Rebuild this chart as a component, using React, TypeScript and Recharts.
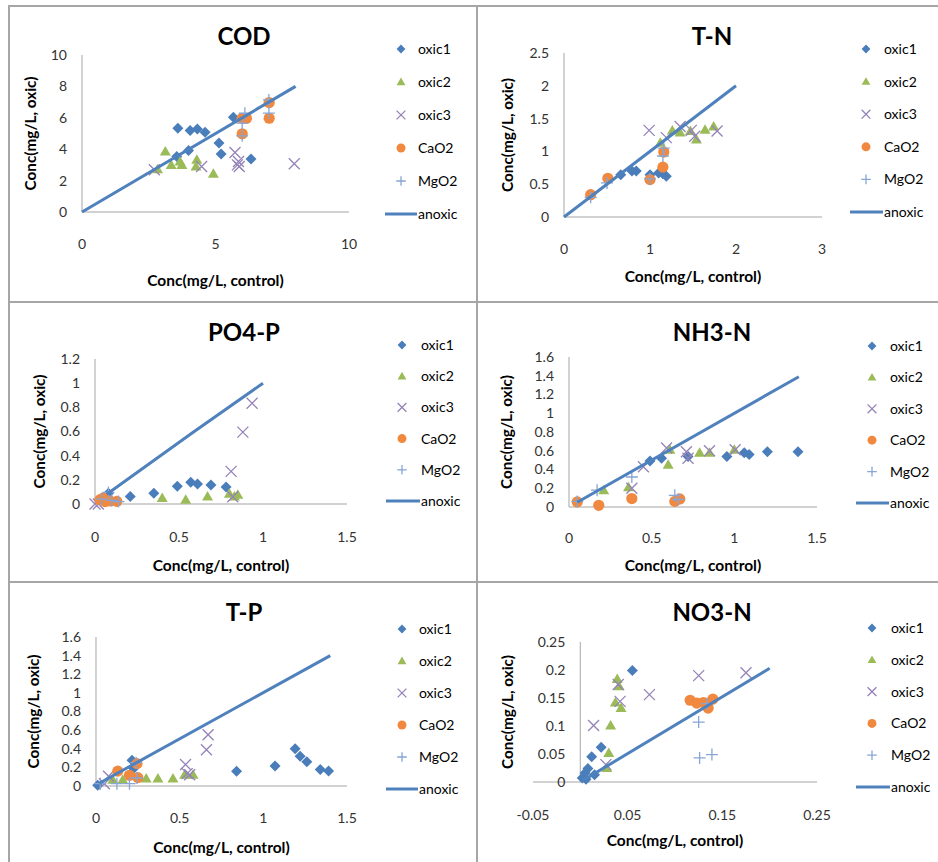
import React from 'react';
import { ScatterChart, Scatter, XAxis, YAxis, ReferenceLine } from 'recharts';

type Pt = [number, number];

const FONT = 'Lato, "Open Sans", sans-serif';

// COD
const codOxic1: Pt[] = [[3.55, 3.54], [3.59, 5.34], [3.99, 3.92], [4.05, 5.19], [4.32, 5.28], [4.61, 5.08], [5.13, 4.39], [5.21, 3.69], [5.67, 6.04], [6.33, 3.37]];
const codOxic2: Pt[] = [[2.83, 2.73], [3.12, 3.86], [3.34, 3.0], [3.67, 3.22], [3.74, 3.0], [4.27, 2.9], [4.3, 3.33], [4.92, 2.44]];
const codOxic3: Pt[] = [[2.71, 2.69], [4.48, 2.9], [5.73, 3.79], [5.86, 3.22], [5.82, 3.0], [5.89, 2.9], [7.95, 3.07]];
const codCaO2: Pt[] = [[6.0, 4.98], [6.0, 5.97], [6.16, 5.97], [7.01, 6.97], [7.01, 5.97]];
const codMgO2: Pt[] = [[6.0, 4.85], [6.0, 5.66], [6.1, 6.29], [7.0, 6.3], [7.0, 7.14]];
const codAnoxic: Pt[] = [[0, 0], [8, 8]];

// T-N
const tnOxic1: Pt[] = [[0.66, 0.645], [0.79, 0.7], [0.84, 0.7], [1.0, 0.645], [1.1, 0.67], [1.15, 0.66], [1.19, 0.62]];
const tnOxic2: Pt[] = [[1.12, 1.13], [1.26, 1.32], [1.35, 1.29], [1.47, 1.31], [1.54, 1.18], [1.64, 1.33], [1.74, 1.38]];
const tnOxic3: Pt[] = [[0.99, 1.32], [1.19, 1.21], [1.35, 1.38], [1.48, 1.32], [1.52, 1.23], [1.78, 1.31]];
const tnCaO2: Pt[] = [[0.31, 0.34], [0.51, 0.59], [1.0, 0.57], [1.15, 0.76], [1.16, 0.99]];
const tnMgO2: Pt[] = [[0.31, 0.3], [0.5, 0.52], [1.0, 0.58], [1.15, 0.93], [1.16, 1.05]];
const tnAnoxic: Pt[] = [[0, 0], [2, 2]];

// PO4-P
const po4Oxic1: Pt[] = [[0.08, 0.09], [0.21, 0.063], [0.35, 0.09], [0.49, 0.146], [0.57, 0.18], [0.61, 0.165], [0.69, 0.157], [0.78, 0.14]];
const po4Oxic2: Pt[] = [[0.4, 0.05], [0.54, 0.036], [0.67, 0.063], [0.8, 0.085], [0.83, 0.063], [0.85, 0.077]];
const po4Oxic3: Pt[] = [[0.0, 0.0], [0.02, 0.0], [0.81, 0.27], [0.82, 0.06], [0.88, 0.595], [0.935, 0.834]];
const po4CaO2: Pt[] = [[0.03, 0.036], [0.05, 0.05], [0.06, 0.02], [0.09, 0.025], [0.13, 0.022]];
const po4MgO2: Pt[] = [[0.04, 0.04], [0.08, 0.096], [0.1, 0.03], [0.14, 0.02]];
const po4Anoxic: Pt[] = [[0.07, 0.08], [0.58, 0.59], [1.0, 1.0]];

// NH3-N
const nh3Oxic1: Pt[] = [[0.49, 0.49], [0.56, 0.52], [0.72, 0.54], [0.955, 0.54], [1.06, 0.58], [1.09, 0.56], [1.2, 0.59], [1.385, 0.59]];
const nh3Oxic2: Pt[] = [[0.21, 0.18], [0.36, 0.21], [0.6, 0.45], [0.61, 0.61], [0.79, 0.58], [0.85, 0.58], [1.0, 0.61]];
const nh3Oxic3: Pt[] = [[0.38, 0.2], [0.45, 0.43], [0.59, 0.63], [0.71, 0.59], [0.72, 0.52], [0.85, 0.6], [1.005, 0.61]];
const nh3CaO2: Pt[] = [[0.05, 0.054], [0.18, 0.018], [0.38, 0.09], [0.64, 0.06], [0.67, 0.086]];
const nh3MgO2: Pt[] = [[0.05, 0.06], [0.17, 0.18], [0.38, 0.32], [0.64, 0.125], [0.66, 0.08]];
const nh3Anoxic: Pt[] = [[0.05, 0.05], [1.39, 1.39]];

// T-P
const tpOxic1: Pt[] = [[0.01, 0.007], [0.215, 0.277], [0.225, 0.187], [0.84, 0.158], [1.07, 0.216], [1.19, 0.4], [1.22, 0.32], [1.26, 0.26], [1.34, 0.176], [1.39, 0.162]];
const tpOxic2: Pt[] = [[0.1, 0.068], [0.16, 0.068], [0.3, 0.08], [0.37, 0.08], [0.46, 0.08], [0.53, 0.12], [0.58, 0.12]];
const tpOxic3: Pt[] = [[0.05, 0.025], [0.075, 0.104], [0.535, 0.23], [0.545, 0.133], [0.56, 0.12], [0.66, 0.39], [0.67, 0.55]];
const tpCaO2: Pt[] = [[0.13, 0.16], [0.2, 0.115], [0.245, 0.24], [0.25, 0.09]];
const tpMgO2: Pt[] = [[0.026, 0.025], [0.125, 0.025], [0.2, 0.025], [0.24, 0.25], [0.245, 0.086]];
const tpAnoxic: Pt[] = [[0.02, 0.03], [1.4, 1.4]];

// NO3-N
const no3Oxic1: Pt[] = [[0.002, 0.007], [0.005, 0.016], [0.006, 0.005], [0.008, 0.024], [0.012, 0.045], [0.015, 0.013], [0.022, 0.062], [0.055, 0.199]];
const no3Oxic2: Pt[] = [[0.028, 0.025], [0.03, 0.052], [0.032, 0.101], [0.037, 0.142], [0.039, 0.184], [0.041, 0.171], [0.043, 0.132]];
const no3Oxic3: Pt[] = [[0.014, 0.101], [0.027, 0.031], [0.04, 0.174], [0.042, 0.144], [0.073, 0.156], [0.125, 0.19], [0.175, 0.195]];
const no3CaO2: Pt[] = [[0.116, 0.146], [0.123, 0.141], [0.13, 0.142], [0.135, 0.132], [0.14, 0.148]];
const no3MgO2: Pt[] = [[0.125, 0.107], [0.126, 0.043], [0.134, 0.14], [0.139, 0.049]];
const no3Anoxic: Pt[] = [[0.002, 0.002], [0.2, 0.203]];

const seriesNames = ['oxic1', 'oxic2', 'oxic3', 'CaO2', 'MgO2', 'anoxic'];
const colors: Record<string, string> = {
  oxic1: '#4A7EBB',
  oxic2: '#9BBB59',
  oxic3: '#9583B8',
  CaO2: '#F0893F',
  MgO2: '#87A5D6',
  anoxic: '#4F81BD',
};

const xLabel = 'Conc(mg/L, control)';
const yLabel = 'Conc(mg/L, oxic)';

interface Panel {
  title: string;
  ox: number;
  oy: number;
  h: number;
  plot: { l: number; r: number; t: number; b: number };
  xDomain: [number, number];
  xTicks: number[];
  yDomain: [number, number];
  yTicks: number[];
  data: Pt[][];
  xGap: number;
  xTitleY: number;
  yTitleX: number;
  legend: { mx: number; tx: number; y0: number; step: number };
}

const panels: Panel[] = [
  {
    title: 'COD', ox: 9, oy: 6, h: 296,
    plot: { l: 73, r: 340, t: 49, b: 206 },
    xDomain: [0, 10], xTicks: [0, 5, 10], yDomain: [0, 10], yTicks: [0, 2, 4, 6, 8, 10],
    data: [codOxic1, codOxic2, codOxic3, codCaO2, codMgO2, codAnoxic],
    xGap: 27, xTitleY: 274, yTitleX: 21,
    legend: { mx: 392, tx: 409, y0: 43, step: 33 },
  },
  {
    title: 'T-N', ox: 477, oy: 6, h: 296,
    plot: { l: 87, r: 345, t: 47, b: 211 },
    xDomain: [0, 3], xTicks: [0, 1, 2, 3], yDomain: [0, 2.5], yTicks: [0, 0.5, 1, 1.5, 2, 2.5],
    data: [tnOxic1, tnOxic2, tnOxic3, tnCaO2, tnMgO2, tnAnoxic],
    xGap: 27, xTitleY: 270, yTitleX: 30,
    legend: { mx: 389, tx: 407, y0: 43, step: 32.6 },
  },
  {
    title: 'PO4-P', ox: 9, oy: 302, h: 280,
    plot: { l: 86, r: 338, t: 57, b: 202 },
    xDomain: [0, 1.5], xTicks: [0, 0.5, 1, 1.5], yDomain: [0, 1.2], yTicks: [0, 0.2, 0.4, 0.6, 0.8, 1, 1.2],
    data: [po4Oxic1, po4Oxic2, po4Oxic3, po4CaO2, po4MgO2, po4Anoxic],
    xGap: 28, xTitleY: 263, yTitleX: 30,
    legend: { mx: 393, tx: 412, y0: 43, step: 31.2 },
  },
  {
    title: 'NH3-N', ox: 477, oy: 302, h: 280,
    plot: { l: 92, r: 340, t: 55, b: 205 },
    xDomain: [0, 1.5], xTicks: [0, 0.5, 1, 1.5], yDomain: [0, 1.6], yTicks: [0, 0.2, 0.4, 0.6, 0.8, 1, 1.2, 1.4, 1.6],
    data: [nh3Oxic1, nh3Oxic2, nh3Oxic3, nh3CaO2, nh3MgO2, nh3Anoxic],
    xGap: 26, xTitleY: 263, yTitleX: 29,
    legend: { mx: 395, tx: 413, y0: 44, step: 31.4 },
  },
  {
    title: 'T-P', ox: 9, oy: 582, h: 280,
    plot: { l: 87, r: 338, t: 55, b: 204 },
    xDomain: [0, 1.5], xTicks: [0, 0.5, 1, 1.5], yDomain: [0, 1.6], yTicks: [0, 0.2, 0.4, 0.6, 0.8, 1, 1.2, 1.4, 1.6],
    data: [tpOxic1, tpOxic2, tpOxic3, tpCaO2, tpMgO2, tpAnoxic],
    xGap: 27, xTitleY: 265, yTitleX: 24,
    legend: { mx: 393, tx: 410, y0: 47, step: 32 },
  },
  {
    title: 'NO3-N', ox: 477, oy: 582, h: 280,
    plot: { l: 56, r: 340, t: 60, b: 200 },
    xDomain: [-0.05, 0.25], xTicks: [-0.05, 0.05, 0.15, 0.25], yDomain: [0, 0.25], yTicks: [0, 0.05, 0.1, 0.15, 0.2, 0.25],
    data: [no3Oxic1, no3Oxic2, no3Oxic3, no3CaO2, no3MgO2, no3Anoxic],
    xGap: 28, xTitleY: 258, yTitleX: 30,
    legend: { mx: 395, tx: 414, y0: 46, step: 31.8 },
  },
];

const toXY = (pts: Pt[]) => pts.map(([x, y]) => ({ x, y }));

function Marker({ kind, cx, cy, s = 1 }: { kind: string; cx: number; cy: number; s?: number }) {
  const c = colors[kind];
  if (kind === 'oxic1') {
    const d = 5.5 * s;
    return <path d={`M${cx},${cy - d}L${cx + d},${cy}L${cx},${cy + d}L${cx - d},${cy}Z`} fill={c} />;
  }
  if (kind === 'oxic2') {
    const w = 5.5 * s;
    return <path d={`M${cx},${cy - 5.5 * s}L${cx + w},${cy + 4 * s}L${cx - w},${cy + 4 * s}Z`} fill={c} />;
  }
  if (kind === 'oxic3') {
    const d = 5.5 * s;
    return (
      <path
        d={`M${cx - d},${cy - d}L${cx + d},${cy + d}M${cx + d},${cy - d}L${cx - d},${cy + d}`}
        stroke={c}
        strokeWidth={1.3}
        fill="none"
      />
    );
  }
  if (kind === 'CaO2') {
    return <circle cx={cx} cy={cy} r={5.6 * s} fill={c} />;
  }
  const d = 6 * s;
  return (
    <path
      d={`M${cx - d},${cy}L${cx + d},${cy}M${cx},${cy - d}L${cx},${cy + d}`}
      stroke={c}
      strokeWidth={1.3}
      fill="none"
    />
  );
}

function YTick(props: any) {
  const { x, y, payload, shift } = props;
  return (
    <text x={x + shift} y={y} dy="0.355em" textAnchor="end" fontSize={14} fill="#333" fontFamily={FONT}>
      {String(payload.value)}
    </text>
  );
}

function PanelChart({ p }: { p: Panel }) {
  const W = 467;
  const XH = 40;
  const { l, r, t, b } = p.plot;
  const margin = { top: t, right: W - r, left: 0, bottom: p.h - b - XH };
  const shift = ((0 - p.xDomain[0]) / (p.xDomain[1] - p.xDomain[0])) * (r - l);
  const yMid = (t + b) / 2;

  return (
    <div style={{ position: 'absolute', left: p.ox, top: p.oy, width: W, height: p.h }}>
      <ScatterChart width={W} height={p.h} margin={margin}>
        <XAxis
          type="number"
          dataKey="x"
          domain={p.xDomain}
          ticks={p.xTicks}
          interval={0}
          height={XH}
          tickLine={false}
          tickSize={0}
          tickMargin={p.xGap}
          axisLine={{ stroke: '#A6A6A6', strokeWidth: 1.2 }}
          tick={{ fontSize: 14, fill: '#333', fontFamily: FONT }}
        />
        <YAxis
          type="number"
          dataKey="y"
          domain={p.yDomain}
          ticks={p.yTicks}
          interval={0}
          width={l}
          tickLine={false}
          tickSize={0}
          tickMargin={15}
          axisLine={false}
          tick={<YTick shift={shift} />}
        />
        <ReferenceLine x={0} stroke="#B5B5B5" strokeWidth={1.2} />
        {seriesNames.slice(0, 5).map((name, i) => (
          <Scatter
            key={name}
            name={name}
            data={toXY(p.data[i])}
            isAnimationActive={false}
            shape={(sp: any) => <Marker kind={name} cx={sp.cx} cy={sp.cy} />}
          />
        ))}
        <Scatter
          name="anoxic"
          data={toXY(p.data[5])}
          isAnimationActive={false}
          line={{ stroke: colors.anoxic, strokeWidth: 3 }}
          shape={() => <g />}
        />
      </ScatterChart>
      <svg
        width={W}
        height={p.h}
        style={{ position: 'absolute', left: 0, top: 0, pointerEvents: 'none' }}
        fontFamily={FONT}
      >
        <text x={235} y={30} dy="0.36em" textAnchor="middle" fontSize={24} fontWeight="bold" fill="#000">
          {p.title}
        </text>
        <text x={(l + r) / 2} y={p.xTitleY} dy="0.36em" textAnchor="middle" fontSize={15.5} fontWeight="bold" fill="#000">
          {xLabel}
        </text>
        <text
          x={p.yTitleX}
          y={yMid}
          dy="0.36em"
          textAnchor="middle"
          fontSize={15.3}
          fontWeight="bold"
          fill="#000"
          transform={`rotate(-90 ${p.yTitleX} ${yMid})`}
        >
          {yLabel}
        </text>
        {seriesNames.map((name, i) => {
          const cy = p.legend.y0 + i * p.legend.step;
          return (
            <g key={name}>
              {name === 'anoxic' ? (
                <line x1={p.legend.mx - 16} x2={p.legend.tx - 1} y1={cy} y2={cy} stroke={colors.anoxic} strokeWidth={3} />
              ) : (
                <Marker kind={name} cx={p.legend.mx} cy={cy} s={0.8} />
              )}
              <text x={p.legend.tx} y={cy} dy="0.36em" fontSize={14} fill="#000">
                {name}
              </text>
            </g>
          );
        })}
      </svg>
    </div>
  );
}

export default function App() {
  const border = '#A6A6A6';
  return (
    <div style={{ position: 'absolute', left: 0, top: 0, width: 938, height: 862, background: '#fff', overflow: 'hidden' }}>
      <div style={{ position: 'absolute', left: 8, top: 5, width: 930, height: 2, background: border }} />
      <div style={{ position: 'absolute', left: 8, top: 5, width: 2, height: 857, background: border }} />
      <div style={{ position: 'absolute', left: 476, top: 5, width: 2, height: 857, background: border }} />
      <div style={{ position: 'absolute', left: 8, top: 301, width: 930, height: 2, background: border }} />
      <div style={{ position: 'absolute', left: 8, top: 581, width: 930, height: 2, background: border }} />
      {panels.map((p) => (
        <PanelChart key={p.title} p={p} />
      ))}
    </div>
  );
}
